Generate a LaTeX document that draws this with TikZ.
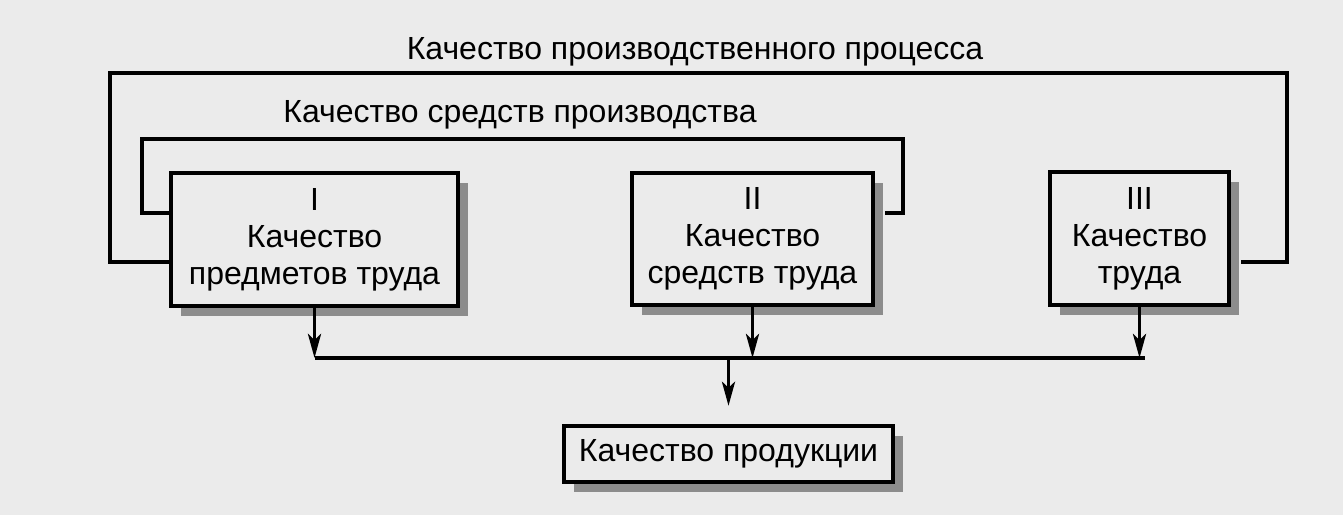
\documentclass[tikz,border=0pt]{standalone}
\usepackage{fontspec}
\setmainfont{Liberation Sans}
\usetikzlibrary{arrows.meta,shadows}
\definecolor{paper}{gray}{0.92}
\tikzset{
  block/.style={draw, line width=2.2pt, fill=paper, align=center, inner sep=0pt,
    drop shadow={shadow xshift=5pt, shadow yshift=-5pt, fill=black!45, opacity=1}},
  link/.style={line width=1.9pt},
  flow/.style={link, -{Stealth[length=12pt,width=6.5pt,inset=3pt]}}
}
\begin{document}
\begin{tikzpicture}
    [x=0.5pt,y=-0.5pt,font=\fontsize{16}{18.5}\selectfont]
  \fill[paper] (0,0) rectangle (1343,515);
  \useasboundingbox (0,0) rectangle (1343,515);

  \node[block, minimum width=143.5pt, minimum height=66.5pt] (I) at (314.5,239.5) {I\\Качество\\предметов труда};
  \node[block, minimum width=120.5pt, minimum height=66pt] (II) at (752.5,239) {II\\Качество\\средств труда};
  \node[block, minimum width=89.5pt, minimum height=66.5pt] (III) at (1139.5,238.5) {III\\Качество\\труда};
  \node[block, minimum width=164.5pt, minimum height=28pt] (prod) at (728.5,454) {Качество продукции};

  \node (lproc) at (695,52) {Качество производственного процесса};
  \node (lmeans) at (520,115) {Качество средств производства};

  \coordinate (otl) at (110,73);
  \coordinate (otr) at (1287,73);
  \coordinate (itl) at (142,139);
  \coordinate (itr) at (903,139);
  \coordinate (bus) at (0,358);

  % frames round the boxes
  \draw[link] ([yshift=-11.25pt]I.west) -| (otl) -- (otr) |- ([xshift=5pt,yshift=-11.75pt]III.east);
  \draw[link] ([yshift=13.25pt]I.west) -| (itl) -- (itr) |- ([xshift=5pt,yshift=13pt]II.east);

  % to the product
  \foreach \blk in {I, II, III}
    \draw[flow] (\blk.south) -- (\blk.south |- bus);
  \draw[link] (I.south |- bus) -- ([xshift=2.5pt]III.south |- bus);
  \draw[flow] (prod.north |- bus) -- ([yshift=9pt]prod.north);
\end{tikzpicture}
\end{document}
